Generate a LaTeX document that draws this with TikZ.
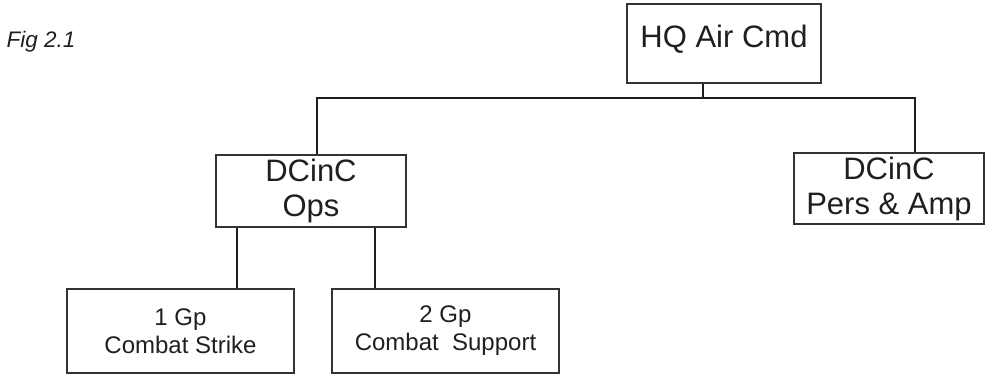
\documentclass[tikz,border=0pt]{standalone}
\usepackage{fontspec}
\setmainfont{Liberation Sans}
\begin{document}
\begin{tikzpicture}[x=1pt,y=-1pt,
  box/.style={draw=black!80,line width=1.4pt,inner sep=0pt,align=center,text=black!88},
  big/.style={font=\fontsize{31}{35}\selectfont},
  small/.style={font=\fontsize{24}{28}\selectfont},
  link/.style={draw=black!88,line width=2.7pt}]
\useasboundingbox (0,0) rectangle (985,376);
\node[anchor=base west,font=\itshape\fontsize{22.5}{26}\selectfont,text=black!88] (fig) at (3,47) {Fig 2.1};
\node[box,big,minimum width=194pt,minimum height=79pt,text height=24pt,text depth=17pt] (hq) at (724,43.5) {HQ Air Cmd};
\node[box,big,minimum width=190pt,minimum height=72pt] (ops) at (311,191) {DCinC\\Ops};
\node[box,big,minimum width=190pt,minimum height=71pt] (pers) at (889,188.5) {DCinC\\Pers \& Amp};
\node[box,small,minimum width=227pt,minimum height=84pt] (g1) at (180.5,331) {1 Gp\\Combat Strike};
\node[box,small,minimum width=227pt,minimum height=84pt] (g2) at (445.5,331) {2 Gp\\Combat\ \ Support};
\coordinate (j0) at (703,98);
\coordinate (busL) at (317,98);
\coordinate (busR) at (915,98);
\coordinate (s1) at (237,0);
\coordinate (s2) at (375,0);
\draw[link] (hq.south -| j0) -- (j0);
\draw[link] (ops.north -| busL) -- (busL) -- (busR) -- (pers.north -| busR);
\draw[link] (ops.south -| s1) -- (g1.north -| s1);
\draw[link] (ops.south -| s2) -- (g2.north -| s2);
\end{tikzpicture}
\end{document}
